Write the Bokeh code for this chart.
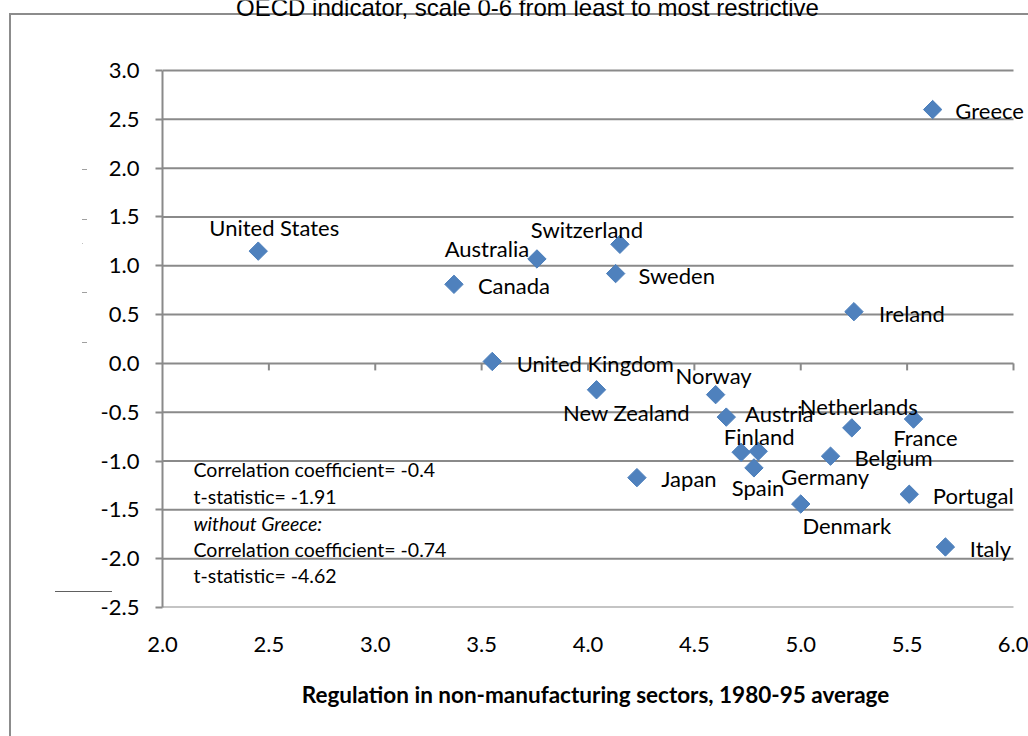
import math
from bokeh.plotting import figure
from bokeh.models import (Range1d, FixedTicker, PrintfTickFormatter, LabelSet, Label,
                          ColumnDataSource)
from bokeh.core.properties import value
from bokeh.embed import file_html
from bokeh.resources import INLINE

# ---------------- data ----------------
countries = ["United States", "Canada", "Australia", "Switzerland", "Sweden", "Greece",
             "Ireland", "United Kingdom", "New Zealand", "Norway", "Austria", "Finland",
             "Germany", "Spain", "Japan", "Netherlands", "France", "Belgium", "Denmark",
             "Portugal", "Italy"]
regulation = [2.45, 3.37, 3.76, 4.15, 4.13, 5.62,
              5.25, 3.55, 4.04, 4.60, 4.65, 4.72,
              4.80, 4.78, 4.23, 5.24, 5.53, 5.14, 5.00,
              5.51, 5.68]
outcome = [1.15, 0.81, 1.07, 1.22, 0.92, 2.60,
           0.53, 0.02, -0.27, -0.32, -0.55, -0.91,
           -0.90, -1.07, -1.17, -0.66, -0.57, -0.95, -1.44,
           -1.34, -1.88]
x_ticks = [2.0, 2.5, 3.0, 3.5, 4.0, 4.5, 5.0, 5.5, 6.0]
y_ticks = [-2.5, -2.0, -1.5, -1.0, -0.5, 0.0, 0.5, 1.0, 1.5, 2.0, 2.5, 3.0]
title_text = "OECD indicator, scale 0-6 from least to most restrictive"
x_title = "Regulation in non-manufacturing sectors, 1980-95 average"
stats_lines = ["Correlation coefficient= -0.4", "t-statistic= -1.91", "without Greece:",
               "Correlation coefficient= -0.74", "t-statistic= -4.62"]

# ---------------- layout (pixel offsets of labels relative to points) ----------------
label_dx = {"United States": 16, "Canada": 60, "Australia": -50, "Switzerland": -33,
            "Sweden": 61, "Greece": 57, "Ireland": 58, "United Kingdom": 103,
            "New Zealand": 30, "Norway": -2, "Austria": 53, "Finland": 18, "Germany": 67,
            "Spain": 4, "Japan": 52, "Netherlands": 7, "France": 12, "Belgium": 63,
            "Denmark": 46, "Portugal": 64, "Italy": 45}
label_dy_down = {"United States": -22, "Canada": 3, "Australia": -8, "Switzerland": -13,
                 "Sweden": 4, "Greece": 3, "Ireland": 4, "United Kingdom": 4,
                 "New Zealand": 25, "Norway": -17, "Austria": -2, "Finland": -14,
                 "Germany": 27, "Spain": 22, "Japan": 3, "Netherlands": -19, "France": 20,
                 "Belgium": 3, "Denmark": 23, "Portugal": 3, "Italy": 4}
LABEL_SHIFT = -2   # global vertical nudge of point labels (px, down positive)

GRID = "#8A8A8A"
BLUE = "#4F81BD"
FONT = "Lato"

W, H = 1028, 736
AX_L, AX_R, AX_T, AX_B = 162, 1013, 70, 607       # axis box (px) for 2..6 and -2.5..3
XMIN, XMAX, YMIN, YMAX = 2.0, 6.0, -2.5, 3.0
ppx = (AX_R - AX_L) / (XMAX - XMIN)
ppy = (AX_B - AX_T) / (YMAX - YMIN)
# plotting frame extends to the right and top edge so that labels are not clipped
x_end = XMAX + (W - AX_R) / ppx
y_end = YMAX + AX_T / ppy

# decorative page background: cropped chart border and small stray marks of the original
_g = "linear-gradient({c}, {c}) {x}px {y}px / {w}px {h}px no-repeat"
bg_parts = [
    _g.format(c="#8C8C8C", x=9, y=13, w=2, h=900),
    _g.format(c="#8C8C8C", x=9, y=13, w=1200, h=2),
    _g.format(c="#A0A0A0", x=82, y=169, w=5, h=1),
    _g.format(c="#A0A0A0", x=82, y=219, w=5, h=1),
    _g.format(c="#C0C0C0", x=82, y=243, w=1, h=1),
    _g.format(c="#A0A0A0", x=82, y=292, w=5, h=1),
    _g.format(c="#A0A0A0", x=82, y=342, w=5, h=1),
    _g.format(c="#606060", x=55, y=591, w=57, h=1),
]

p = figure(width=W, height=H, output_backend="svg", toolbar_location=None,
           x_range=Range1d(XMIN, x_end), y_range=Range1d(YMIN, y_end),
           min_border_left=AX_L, min_border_right=0,
           min_border_top=0, min_border_bottom=H - AX_B,
           x_axis_label=x_title)
p.styles = {
    "position": "absolute", "left": "0px", "top": "0px",
    "background": ", ".join(bg_parts) + ", white",
}
p.outline_line_color = None
p.background_fill_color = None
p.border_fill_color = None

# grid lines, drawn between the axis bounds
p.xgrid.visible = False
p.ygrid.visible = False
p.segment(x0=[XMIN] * len(y_ticks), y0=y_ticks, x1=[XMAX] * len(y_ticks), y1=y_ticks,
          line_color=GRID, line_width=2)

# y axis
ya = p.yaxis[0]
ya.bounds = (YMIN, YMAX)
ya.ticker = FixedTicker(ticks=y_ticks)
ya.formatter = PrintfTickFormatter(format="%.1f")
ya.axis_line_color = GRID
ya.axis_line_width = 2
ya.major_tick_line_color = GRID
ya.major_tick_line_width = 2
ya.major_tick_in = 0
ya.major_tick_out = 7
ya.minor_tick_line_color = None
ya.major_label_standoff = 16
ya.major_label_text_font = FONT
ya.major_label_text_font_size = "22px"
ya.major_label_text_color = "black"

# x axis (labels only, at the bottom)
xa = p.xaxis[0]
xa.bounds = (XMIN, XMAX)
xa.ticker = FixedTicker(ticks=x_ticks)
xa.formatter = PrintfTickFormatter(format="%.1f")
xa.axis_line_color = None
xa.major_tick_line_color = None
xa.minor_tick_line_color = None
xa.major_label_standoff = 23
xa.major_label_text_font = FONT
xa.major_label_text_font_size = "22px"
xa.major_label_text_color = "black"
xa.axis_label_text_font = FONT
xa.axis_label_text_font_size = "22.5px"
xa.axis_label_text_font_style = "bold"
xa.axis_label_text_color = "black"
xa.axis_label_standoff = 26

# tick marks on the y = 0 line (horizontal axis crosses at 0)
tick_len = 7 / ppy
p.segment(x0=x_ticks[1:], y0=[0.0] * (len(x_ticks) - 1), x1=x_ticks[1:],
          y1=[-tick_len] * (len(x_ticks) - 1), line_color=GRID, line_width=2)

# points
src = ColumnDataSource(dict(
    x=regulation, y=outcome, name=countries,
    dx=[label_dx[c] for c in countries],
    dy=[-(label_dy_down[c] + LABEL_SHIFT) for c in countries],
))
p.scatter("x", "y", source=src, marker="square", angle=math.pi / 4, size=13,
          fill_color=BLUE, line_color="#4A7EBB", line_width=1)

labels = LabelSet(x="x", y="y", text="name", x_offset="dx", y_offset="dy", source=src,
                  text_font=value(FONT), text_font_size="22px", text_color="black",
                  text_align="center", text_baseline="middle")
p.add_layout(labels)

# statistics text block (screen units are relative to the frame's bottom-left)
stat_y = [469, 496, 523, 549, 575]
for line, yy in zip(stats_lines, stat_y):
    p.add_layout(Label(x=193 - AX_L, y=AX_B - yy, x_units="screen", y_units="screen",
                       text=line, text_font=FONT, text_font_size="19.5px",
                       text_color="black", text_baseline="middle",
                       text_font_style="italic" if line.startswith("without") else "normal"))

# cut-off title at the very top (as in the cropped original)
p.add_layout(Label(x=527 - AX_L, y=AX_B - 7, x_units="screen", y_units="screen",
                   text=title_text, text_font="Liberation Sans", text_font_size="24px",
                   text_color="black", text_align="center", text_baseline="alphabetic"))

open("out.html", "w").write(file_html(p, INLINE))
